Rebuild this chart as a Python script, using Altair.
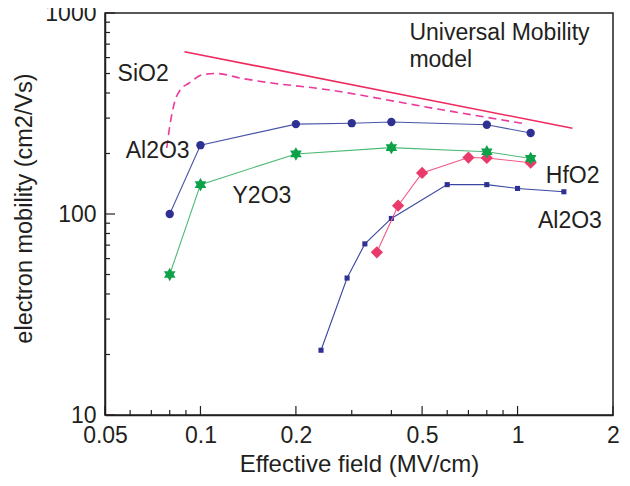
import altair as alt
import pandas as pd

# ---- data ----
al_circ_x = [0.08, 0.1, 0.2, 0.3, 0.4, 0.8, 1.1]
al_circ_y = [100, 220, 280, 283, 287, 278, 253]

y2o3_x = [0.08, 0.1, 0.2, 0.4, 0.8, 1.1]
y2o3_y = [50, 140, 199, 214, 204, 189]

hfo2_x = [0.36, 0.42, 0.5, 0.7, 0.8, 1.1]
hfo2_y = [64.5, 110, 160, 191, 190, 180]

al_sq_x = [0.24, 0.29, 0.33, 0.4, 0.6, 0.8, 1.0, 1.4]
al_sq_y = [21, 48, 71, 95, 140, 140, 134, 129]

umm_x = [0.089, 1.49]
umm_y = [642, 267]

sio2_x = [0.0783, 0.080, 0.083, 0.0866, 0.0917, 0.102, 0.112, 0.136, 0.172, 0.223, 0.565, 1.07]
sio2_y = [213, 273, 363, 417, 446, 494, 500, 472, 446, 426, 332, 280]

label_text = ["Universal Mobility", "model", "SiO2", "Al2O3", "Y2O3", "HfO2", "Al2O3"]
label_x = [0.456, 0.456, 0.0548, 0.0581, 0.1262, 1.228, 1.16]
label_y = [736, 541, 461, 190, 114, 143, 84.8]

x_major = [0.05, 0.1, 0.2, 0.5, 1, 2]
x_minor = [0.06, 0.07, 0.08, 0.09, 0.3, 0.4, 0.6, 0.7, 0.8, 0.9]
y_major = [10, 100, 1000]
y_minor = [20, 30, 40, 50, 60, 70, 80, 90, 200, 300, 400, 500, 600, 700, 800, 900]

W, H = 508, 402
FONT = "Liberation Sans"
INK = "#231f20"

xs = alt.Scale(type="log", domain=[0.05, 2], nice=False, zero=False)
ys = alt.Scale(type="log", domain=[10, 1000], nice=False, zero=False)

x_axis = alt.Axis(values=x_major, format="~g", title="Effective field (MV/cm)",
                  ticks=False, grid=False, labelFlush=False, labelOverlap=False,
                  labelPadding=9, titlePadding=5, titleFontSize=24)
y_axis = alt.Axis(values=y_major, format="d", title="electron mobility (cm2/Vs)",
                  ticks=False, grid=False, labelOverlap=False,
                  labelPadding=9, titlePadding=8, titleFontSize=23.5, titleY=H / 2 - 6)


def X(field="x"):
    return alt.X(field, type="quantitative", scale=xs, axis=x_axis)


def Y(field="y"):
    return alt.Y(field, type="quantitative", scale=ys, axis=y_axis)


def df(xv, yv):
    return pd.DataFrame({"x": xv, "y": yv})


layers = []

# Universal mobility model (solid) and SiO2 (dashed)
layers.append(alt.Chart(df(umm_x, umm_y)).mark_line(color="#ee2a5e", strokeWidth=1.6)
              .encode(x=X(), y=Y()))
layers.append(alt.Chart(df(sio2_x, sio2_y)).mark_line(color="#ec3a9c", strokeWidth=1.6,
                                                     strokeDash=[8, 5], interpolate="monotone")
              .encode(x=X(), y=Y()))

STAR = ("M0,-1L0.2887,-0.5L0.866,-0.5L0.577,0L0.866,0.5L0.2887,0.5L0,1"
        "L-0.2887,0.5L-0.866,0.5L-0.577,0L-0.866,-0.5L-0.2887,-0.5Z")

series = [
    (al_sq_x, al_sq_y, "#3a46a0", "#2e3192", "square", 26),
    (hfo2_x, hfo2_y, "#ef5a82", "#ea3a6c", "diamond", 150),
    (y2o3_x, y2o3_y, "#4cba74", "#0fa14a", STAR, 180),
    (al_circ_x, al_circ_y, "#4a55a8", "#2e3192", "circle", 70),
]
for sx, sy, lc, mc, shp, sz in series:
    d = df(sx, sy)
    layers.append(alt.Chart(d).mark_line(color=lc, strokeWidth=1.1).encode(x=X(), y=Y()))
    layers.append(alt.Chart(d).mark_point(shape=shp, size=sz, filled=True, color=mc, opacity=1)
                  .encode(x=X(), y=Y()))

# annotations
lab = pd.DataFrame({"t": label_text, "x": label_x, "y": label_y})
layers.append(alt.Chart(lab).mark_text(align="left", baseline="alphabetic", font=FONT,
                                       fontSize=23, color=INK)
              .encode(x=X(), y=Y(), text="t:N"))

# inward ticks
tx_maj = pd.DataFrame({"x": x_major})
tx_min = pd.DataFrame({"x": x_minor})
ty_maj = pd.DataFrame({"y": y_major})
ty_min = pd.DataFrame({"y": y_minor})
layers.append(alt.Chart(tx_maj).mark_rule(color=INK, strokeWidth=1.2)
              .encode(x=X(), y=alt.value(H), y2=alt.value(H - 9)))
layers.append(alt.Chart(tx_min).mark_rule(color=INK, strokeWidth=1.2)
              .encode(x=X(), y=alt.value(H), y2=alt.value(H - 5)))
layers.append(alt.Chart(ty_maj).mark_rule(color=INK, strokeWidth=1.2)
              .encode(y=Y(), x=alt.value(0), x2=alt.value(10)))
layers.append(alt.Chart(ty_min).mark_rule(color=INK, strokeWidth=1.2)
              .encode(y=Y(), x=alt.value(0), x2=alt.value(5)))

chart = alt.layer(*layers).properties(
    width=W, height=H,
    autosize=alt.AutoSizeParams(type="none"),
    padding={"left": 97, "top": 5, "right": 8, "bottom": 63},
).configure_view(
    stroke=INK, strokeWidth=1.5
).configure_axis(
    domainColor=INK, domainWidth=1.5,
    labelFont=FONT, labelFontSize=23, labelColor=INK,
    titleFont=FONT, titleColor=INK, titleFontWeight="normal",
)

chart.save("out.html", embed_options={"renderer": "svg", "actions": False})
